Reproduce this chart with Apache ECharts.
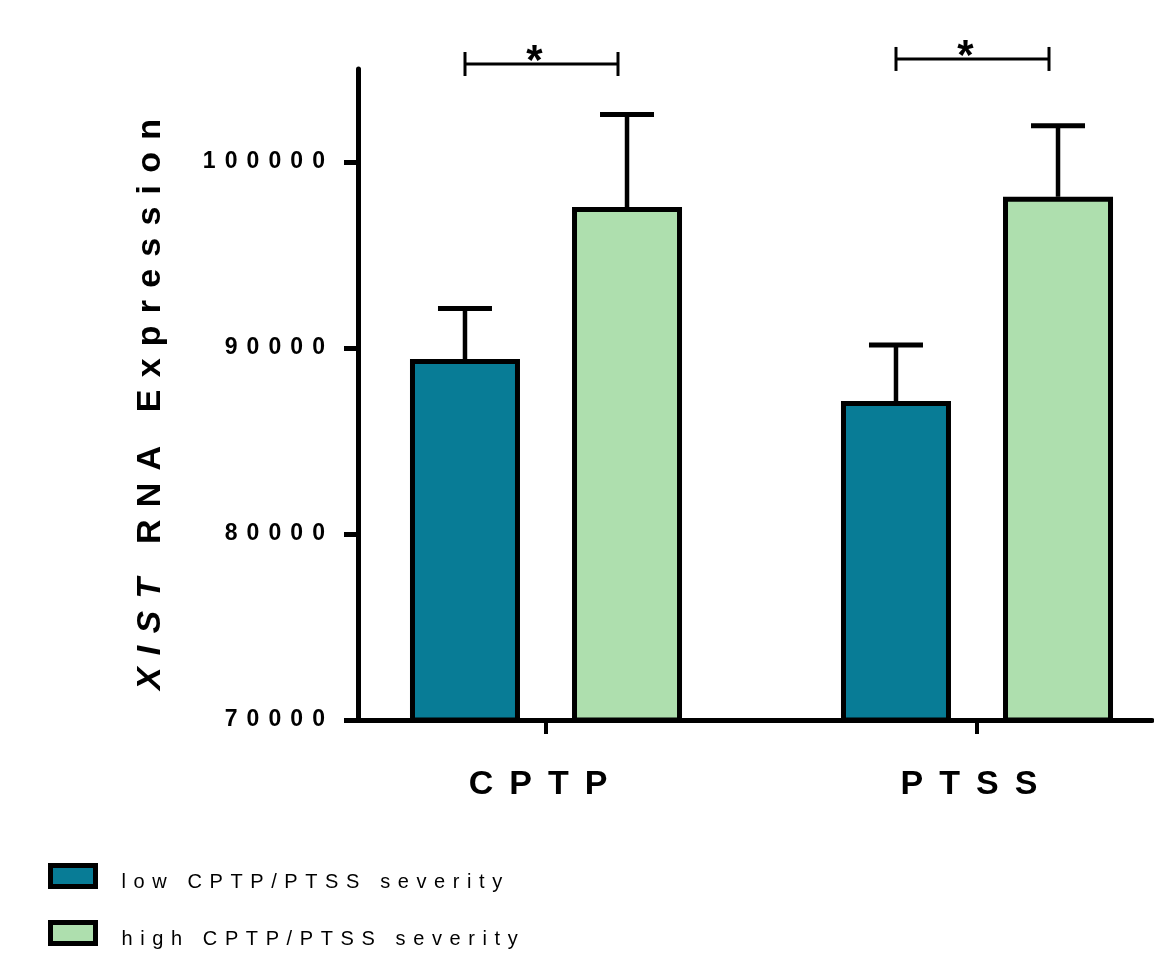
<!DOCTYPE html>
<html><head><meta charset="utf-8">
<script src="https://cdn.jsdelivr.net/npm/echarts@6/dist/echarts.min.js"></script>
<style>html,body{margin:0;padding:0;background:#fff}#chart{width:1154px;height:970px}</style>
</head><body><div id="chart"></div>
<script>
// ---- data ----
const categories = ['CPTP', 'PTSS'];
const seriesNames = ['low CPTP/PTSS severity', 'high CPTP/PTSS severity'];
const lowMeans = [89410, 87150];
const lowErrTops = [92120, 90160];
const highMeans = [97580, 98130];
const highErrTops = [102550, 101950];
const sigLevels = [105270, 105540];
const sigLabels = ['*', '*'];
const yTicks = [70000, 80000, 90000, 100000];
const yTitleItalic = 'XIST';
const yTitleRest = ' RNA Expression';

// ---- letter-spaced text helper (rich text, one fragment per character) ----
const FONT = '"Liberation Sans", Arial, Helvetica, sans-serif';
const mctx = document.createElement('canvas').getContext('2d');
function spaced(str, size, weight, spacing, italic, prefix, rich, noTrail) {
  const chars = [...str];
  let out = '';
  chars.forEach((ch, i) => {
    const fs = italic ? 'italic' : 'normal';
    mctx.font = fs + ' ' + weight + ' ' + size + 'px ' + FONT;
    const last = noTrail && i === chars.length - 1;
    const w = mctx.measureText(ch).width + (last ? 0 : spacing);
    const key = prefix + (last ? 'L' : 'c') + ch.charCodeAt(0) + (italic ? 'i' : 'n');
    rich[key] = {width: w, align: 'left', fontSize: size, fontWeight: weight, fontStyle: fs,
                 fontFamily: FONT, color: '#000'};
    out += '{' + key + '|' + ch + '}';
  });
  return out;
}

const tickRich = {}, tickText = {};
yTicks.forEach(v => { tickText[v] = spaced(String(v), 23, 'bold', 9.1, false, 't', tickRich, true); });
const catRich = {}, catText = {};
categories.forEach(c => { catText[c] = spaced(c, 34, 'bold', 16, false, 'k', catRich, false); });
const legRich = {}, legText = {};
seriesNames.forEach(n => { legText[n] = spaced(n, 20, 'normal', 7.6, false, 'g', legRich, true); });
const nameRich = {};
const nameText = spaced(yTitleItalic, 34, 'bold', 12.2, true, 'n', nameRich, false) +
                 spaced(yTitleRest, 34, 'bold', 12.2, false, 'n', nameRich, false);

const COLORS = ['#087C96', '#AEDFAE'];
const BAR_W = 110, BAR_GAP = 0.473;
const BAR_OFFSET = (BAR_W + BAR_W * BAR_GAP) / 2;

function errRender(sign) {
  return function (params, api) {
    const cat = api.value(0);
    const base = api.coord([cat, api.value(1)]);
    const top = api.coord([cat, api.value(2)]);
    const x = base[0] + sign * BAR_OFFSET;
    return {type: 'group', children: [
      {type: 'line', shape: {x1: x, y1: base[1], x2: x, y2: top[1]}, style: {stroke: '#000', lineWidth: 4.5}},
      {type: 'line', shape: {x1: x - 27, y1: top[1], x2: x + 27, y2: top[1]}, style: {stroke: '#000', lineWidth: 5}}
    ]};
  };
}

const option = {
  backgroundColor: '#fff',
  animation: false,
  grid: [
    {left: 358, top: 69, width: 794, height: 651, outerBoundsMode: 'none', containLabel: false},
    {left: 330.5, top: 69, width: 862, height: 651, outerBoundsMode: 'none', containLabel: false}
  ],
  xAxis: [
    {gridIndex: 0, type: 'value', min: 0, max: 1,
     axisLine: {show: true, onZero: false, lineStyle: {color: '#000', width: 5}},
     axisTick: {show: false}, axisLabel: {show: false}, splitLine: {show: false}},
    {gridIndex: 1, type: 'category', data: categories,
     axisLine: {show: false},
     axisTick: {show: true, alignWithLabel: true, length: 14, lineStyle: {color: '#000', width: 4}},
     axisLabel: {margin: 48, formatter: v => catText[v], rich: catRich},
     splitLine: {show: false}}
  ],
  yAxis: [
    {gridIndex: 0, type: 'value', min: 70000, max: 105000, interval: 5000,
     axisLine: {show: true, lineStyle: {color: '#000', width: 5}},
     axisTick: {show: true, length: 14, lineStyle: {color: '#000', width: 5}, customValues: yTicks},
     axisLabel: {customValues: yTicks, margin: 33, formatter: v => tickText[v], rich: tickRich},
     splitLine: {show: false},
     name: nameText, nameLocation: 'middle', nameRotate: 90, nameGap: 190,
     nameTextStyle: {rich: nameRich, padding: [0, 8, 0, 0]}},
    {gridIndex: 1, type: 'value', min: 70000, max: 105000, show: false, splitLine: {show: false}}
  ],
  legend: {
    orient: 'vertical', left: 48, top: 863, padding: 0, itemWidth: 45, itemHeight: 21, itemGap: 28,
    icon: 'rect', data: seriesNames,
    formatter: n => legText[n],
    textStyle: {rich: legRich, padding: [12, 0, 0, 21]},
    itemStyle: {borderColor: '#000', borderWidth: 5},
    selectedMode: false
  },
  series: [
    {name: seriesNames[0], type: 'bar', xAxisIndex: 1, yAxisIndex: 1, data: lowMeans,
     barWidth: BAR_W, barGap: (BAR_GAP * 100) + '%',
     itemStyle: {color: COLORS[0], borderColor: '#000', borderWidth: 5}},
    {name: seriesNames[1], type: 'bar', xAxisIndex: 1, yAxisIndex: 1, data: highMeans,
     barWidth: BAR_W, barGap: (BAR_GAP * 100) + '%',
     itemStyle: {color: COLORS[1], borderColor: '#000', borderWidth: 5}},
    {type: 'custom', xAxisIndex: 1, yAxisIndex: 1, z: 5, clip: false,
     data: categories.map((c, i) => [i, lowMeans[i], lowErrTops[i]]), renderItem: errRender(-1)},
    {type: 'custom', xAxisIndex: 1, yAxisIndex: 1, z: 5, clip: false,
     data: categories.map((c, i) => [i, highMeans[i], highErrTops[i]]), renderItem: errRender(1)},
    {type: 'custom', xAxisIndex: 1, yAxisIndex: 1, z: 5, clip: false,
     data: categories.map((c, i) => [i, sigLevels[i]]),
     renderItem: function (params, api) {
       const p = api.coord([api.value(0), api.value(1)]);
       const xl = p[0] - 81, xr = p[0] + 72, y = p[1];
       return {type: 'group', children: [
         {type: 'line', shape: {x1: xl, y1: y, x2: xr, y2: y}, style: {stroke: '#000', lineWidth: 3}},
         {type: 'line', shape: {x1: xl, y1: y - 12, x2: xl, y2: y + 12}, style: {stroke: '#000', lineWidth: 3}},
         {type: 'line', shape: {x1: xr, y1: y - 12, x2: xr, y2: y + 12}, style: {stroke: '#000', lineWidth: 3}},
         {type: 'text', x: (xl + xr) / 2 - 7, y: y + 19,
          style: {text: sigLabels[params.dataIndex], fontSize: 42, fontWeight: 'bold', fontFamily: FONT,
                   fill: '#000', align: 'center', verticalAlign: 'bottom'}}
       ]};
     }}
  ]
};
const chart = echarts.init(document.getElementById('chart'));
chart.setOption(option);
</script></body></html>
